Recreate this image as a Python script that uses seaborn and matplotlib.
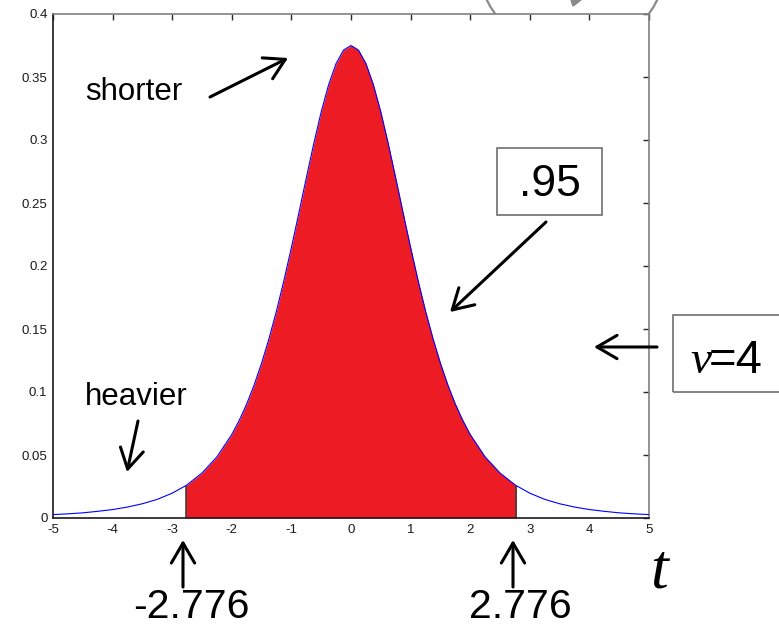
import numpy as np
import pandas as pd
import matplotlib
matplotlib.use('Agg')
import matplotlib.pyplot as plt
import matplotlib.patches as mpatches
import seaborn as sns

# t values (df = 4) and density
t_vals = [-5, -4.75, -4.5, -4.25, -4, -3.75, -3.5, -3.25, -3, -2.776, -2.75,
          -2.5, -2.25, -2, -1.875, -1.75, -1.625, -1.5, -1.375, -1.25, -1.125,
          -1, -0.875, -0.75, -0.625, -0.5, -0.375, -0.25, -0.125, 0,
          0.125, 0.25, 0.375, 0.5, 0.625, 0.75, 0.875, 1, 1.125, 1.25, 1.375,
          1.5, 1.625, 1.75, 1.875, 2, 2.25, 2.5, 2.75, 2.776,
          3, 3.25, 3.5, 3.75, 4, 4.25, 4.5, 4.75, 5]
density = [0.0027, 0.0033, 0.0041, 0.0053, 0.0067, 0.0087, 0.0113, 0.0148,
           0.0197, 0.0256, 0.0264, 0.0357, 0.0485, 0.0663, 0.0775, 0.0905,
           0.1056, 0.1229, 0.1425, 0.1644, 0.1886,
           0.2147, 0.2420, 0.2699, 0.2971, 0.3223, 0.3440, 0.3607, 0.3714, 0.3750,
           0.3714, 0.3607, 0.3440, 0.3223, 0.2971, 0.2699, 0.2420, 0.2147,
           0.1886, 0.1644, 0.1425,
           0.1229, 0.1056, 0.0905, 0.0775, 0.0663, 0.0485, 0.0357, 0.0264, 0.0256,
           0.0197, 0.0148, 0.0113, 0.0087, 0.0067, 0.0053, 0.0041, 0.0033, 0.0027]
t_crit = 2.776

x_ticks = [-5, -4, -3, -2, -1, 0, 1, 2, 3, 4, 5]
x_ticklabels = ['-5', '-4', '-3', '-2', '-1', '0', '1', '2', '3', '4', '5']
y_ticks = [0, 0.05, 0.1, 0.15, 0.2, 0.25, 0.3, 0.35, 0.4]
y_ticklabels = ['0', '0.05', '0.1', '0.15', '0.2', '0.25', '0.3', '0.35', '0.4']

df = pd.DataFrame({'t': t_vals, 'pdf': density})

sns.set_style('white')
plt.rcParams['font.family'] = ['Liberation Sans', 'DejaVu Sans']
plt.rcParams['text.color'] = 'black'

W, H = 779, 625
fig = plt.figure(figsize=(W / 100, H / 100), dpi=100)


# image pixel (from top-left) -> figure fraction
def fp(x, y):
    return (x / W, 1 - y / H)


ax = fig.add_axes([53 / W, 1 - 518 / H, (649 - 53) / W, (518 - 14) / H])

# shaded 95% region
mid = df[(df.t >= -t_crit) & (df.t <= t_crit)]
ax.fill_between(mid.t, 0, mid.pdf, color='#ED1C24', linewidth=0, zorder=1)
ax.vlines([-t_crit, t_crit], 0, [mid.pdf.iloc[0], mid.pdf.iloc[-1]],
          color='#404040', lw=1.2, zorder=2)
sns.lineplot(data=df, x='t', y='pdf', color='blue', lw=0.8, ax=ax, zorder=3)

ax.set_xlim(-5, 5)
ax.set_ylim(0, 0.4)
ax.set_xticks(x_ticks)
ax.set_xticklabels(x_ticklabels)
ax.set_yticks(y_ticks)
ax.set_yticklabels(y_ticklabels)
ax.set_xlabel('')
ax.set_ylabel('')
ax.tick_params(direction='in', length=4, width=1, top=True, right=True,
               labelsize=9.5, labelcolor='#1a1a1a', pad=4)
for side in ['left', 'bottom']:
    ax.spines[side].set_color('#1a1a1a')
for side in ['top', 'right']:
    ax.spines[side].set_color('#808080')
for s in ax.spines.values():
    s.set_linewidth(1.2)

# partial circle icon peeking in at the top (behind axes)
circ = mpatches.Ellipse(fp(572, -42), 190 / W, 190 / H, transform=fig.transFigure,
                        facecolor='none', edgecolor='#8a8a8a', lw=1.6, zorder=-1)
fig.patches.append(circ)
tri = mpatches.Polygon([fp(571, 0), fp(581, 0), fp(573, 6)], closed=True,
                       transform=fig.transFigure, color='#8a8a8a', zorder=-1)
fig.patches.append(tri)

# text labels
fig.text(*fp(85, 100), 'shorter', fontsize=22.5, ha='left', va='baseline')
fig.text(*fp(85, 405), 'heavier', fontsize=22.5, ha='left', va='baseline')
fig.text(*fp(550, 196), '.95', fontsize=32, ha='center', va='baseline')
fig.text(*fp(191, 618), '-2.776', fontsize=29.5, ha='center', va='baseline')
fig.text(*fp(520, 618), '2.776', fontsize=29.5, ha='center', va='baseline')
fig.text(*fp(659, 588), 't', fontsize=46, ha='center', va='baseline',
         family='Liberation Serif', style='italic')
fig.text(*fp(711, 373), 'v', fontsize=34, ha='right', va='baseline',
         family='Liberation Serif', style='italic')
fig.text(*fp(709, 373), '=4', fontsize=34, ha='left', va='baseline')

# boxes
for (x0, y0, x1, y1) in [(497, 148, 602, 215), (673, 315, 790, 392)]:
    r = mpatches.Rectangle(fp(x0, y1), (x1 - x0) / W, (y1 - y0) / H,
                           transform=fig.transFigure, facecolor='none',
                           edgecolor='#6e6e6e', lw=1.2)
    fig.patches.append(r)

# arrows (tail -> head, image pixels)
arrows = [((210, 97), (288, 58)), ((546, 222), (450, 312)),
          ((138, 421), (127, 472)), ((657, 347), (594, 347)),
          ((183, 587), (183, 540)), ((513, 587), (513, 540))]
for tail, head in arrows:
    ax.annotate('', xy=fp(*head), xytext=fp(*tail), xycoords='figure fraction',
                textcoords='figure fraction', annotation_clip=False,
                arrowprops=dict(arrowstyle='->, head_length=0.6, head_width=0.35',
                                color='black', lw=2.2, mutation_scale=24,
                                shrinkA=0, shrinkB=0))

fig.savefig('out.png', dpi=100)
